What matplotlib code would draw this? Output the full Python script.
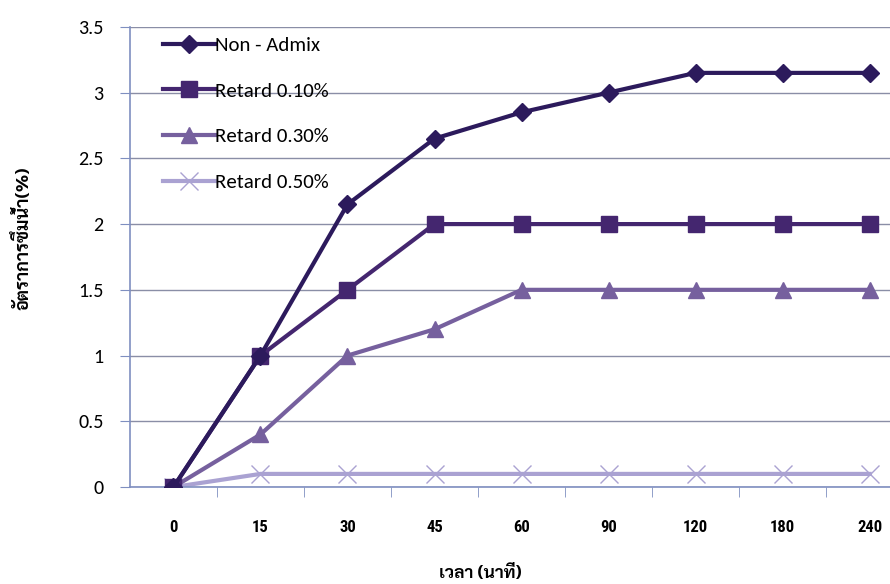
# Water absorption over time for mortar with and without retarder admixture

import matplotlib
matplotlib.use("Agg")
import matplotlib.pyplot as plt
from matplotlib import font_manager


# ------------------------------------------------------------
# Data
# ------------------------------------------------------------

time_labels = ["0", "15", "30", "45", "60", "90", "120", "180", "240"]

non_admix = [0.0, 1.0, 2.15, 2.65, 2.85, 3.0, 3.15, 3.15, 3.15]
retard_010 = [0.0, 1.0, 1.5, 2.0, 2.0, 2.0, 2.0, 2.0, 2.0]
retard_030 = [0.0, 0.4, 1.0, 1.2, 1.5, 1.5, 1.5, 1.5, 1.5]
retard_050 = [0.0, 0.1, 0.1, 0.1, 0.1, 0.1, 0.1, 0.1, 0.1]

series_names = ["Non - Admix", "Retard 0.10%", "Retard 0.30%", "Retard 0.50%"]

y_ticks = [0, 0.5, 1, 1.5, 2, 2.5, 3, 3.5]
y_tick_labels = ["0", "0.5", "1", "1.5", "2", "2.5", "3", "3.5"]


# ------------------------------------------------------------
# Fonts
# ------------------------------------------------------------

def first_installed(candidates, default="DejaVu Sans"):
    installed = {f.name for f in font_manager.fontManager.ttflist}
    for name in candidates:
        if name in installed:
            return name
    return default


THAI_FONT = first_installed(["Sarabun", "Noto Sans Thai", "Noto Sans Thai Looped",
                             "Bai Jamjuree", "Chakra Petch"])
LATIN_FONT = first_installed(["Carlito", "Lato", "Open Sans"])
NUM_FONT = first_installed(["Liberation Sans Narrow", "Roboto Condensed", "Liberation Sans"])


# ------------------------------------------------------------
# Plot
# ------------------------------------------------------------

fig = plt.figure(figsize=(8.9, 5.84), dpi=100)
ax = fig.add_axes([0.146, 0.166, 0.880, 0.788])

x = list(range(len(time_labels)))

ax.plot(x, non_admix, color="#2c1a5c", lw=3, marker="D", ms=9,
        label=series_names[0], zorder=5)
ax.plot(x, retard_010, color="#44266f", lw=3, marker="s", ms=12,
        label=series_names[1], zorder=4)
ax.plot(x, retard_030, color="#76609e", lw=3, marker="^", ms=11,
        label=series_names[2], zorder=3)
ax.plot(x, retard_050, color="#aaa2d2", lw=3, marker="x", ms=13, mew=1.0,
        label=series_names[3], zorder=2)

ax.set_xlim(-0.5, len(time_labels) - 0.5)
ax.set_ylim(0, 3.5)

ax.set_yticks(y_ticks)
ax.set_yticklabels(y_tick_labels, fontsize=14.5, family=LATIN_FONT)
ax.set_xticks(x)
ax.set_xticklabels(time_labels, fontsize=12, fontweight="bold", family=NUM_FONT)
ax.set_xticks([i + 0.5 for i in x[:-1]], minor=True)

ax.tick_params(axis="x", which="major", length=0, pad=24)
ax.tick_params(axis="x", which="minor", length=7, color="#7f8fc0", direction="out")
ax.tick_params(axis="y", length=7, color="#7f8fc0", direction="out", pad=12)

ax.grid(axis="y", color="#8a8ea6", lw=1)
ax.set_axisbelow(True)

for side in ["top", "right"]:
    ax.spines[side].set_visible(False)
for side in ["left", "bottom"]:
    ax.spines[side].set_color("#7f8fc0")
    ax.spines[side].set_linewidth(1.2)

ax.set_ylabel("อัตราการซึมน้ำ(%)", family=THAI_FONT, fontsize=13,
              fontweight="bold")
ax.yaxis.set_label_coords(-0.125, 0.54)
ax.set_xlabel("เวลา (นาที)", family=THAI_FONT, fontsize=12.5,
              fontweight="bold")
ax.xaxis.set_label_coords(0.447, -0.17)

leg = ax.legend(loc="upper left", bbox_to_anchor=(0.018, 1.02), frameon=False,
                prop={"family": LATIN_FONT, "size": 15}, handlelength=2.5,
                handletextpad=0.0, labelspacing=1.35)

fig.savefig("out.png", dpi=100)
plt.close(fig)
